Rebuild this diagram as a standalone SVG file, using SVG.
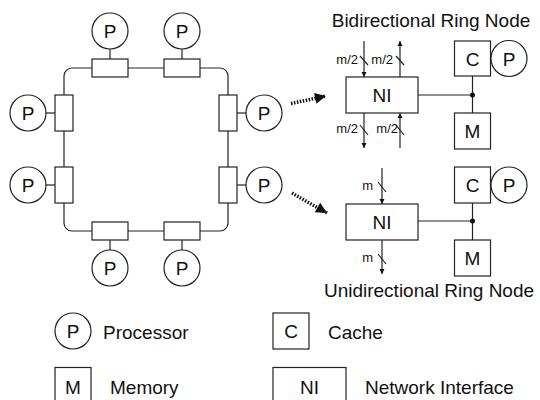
<svg xmlns="http://www.w3.org/2000/svg" width="540" height="400" viewBox="0 0 540 400">
<style>
.s{fill:#fff;stroke:#222;stroke-width:1.2}
.l{fill:none;stroke:#222;stroke-width:1.2}
.t{font-family:"Liberation Sans",Arial,sans-serif;font-size:19px;fill:#111}
.c{text-anchor:middle}
.sm{font-family:"Liberation Sans",Arial,sans-serif;font-size:13px;fill:#111}
.e{text-anchor:end}
</style>
<defs>
<marker id="ah" viewBox="0 0 10 10" refX="10" refY="5" markerWidth="5" markerHeight="6" orient="auto" markerUnits="userSpaceOnUse"><path d="M0,0 L10,5 L0,10 Z" fill="#111"/></marker>
<marker id="big" viewBox="0 0 10 10" refX="10" refY="5" markerWidth="14" markerHeight="11" orient="auto" markerUnits="userSpaceOnUse"><path d="M0,0 L10,5 L0,10 Z" fill="#111"/></marker>
</defs>
<g id="connectors">
<rect x="64" y="68" width="164" height="163" rx="8" class="l"/>
<line x1="110" y1="49" x2="110" y2="59" class="l"/>
<line x1="182" y1="49" x2="182" y2="59" class="l"/>
<line x1="110" y1="240" x2="110" y2="250" class="l"/>
<line x1="182" y1="240" x2="182" y2="250" class="l"/>
<line x1="46" y1="113" x2="55" y2="113" class="l"/>
<line x1="46" y1="185" x2="55" y2="185" class="l"/>
<line x1="237" y1="113" x2="246" y2="113" class="l"/>
<line x1="237" y1="185" x2="246" y2="185" class="l"/>
<line x1="291" y1="103.5" x2="326" y2="96" stroke="#111" stroke-width="3.5" stroke-dasharray="1.5 1.5" marker-end="url(#big)"/>
<line x1="292" y1="193" x2="327" y2="213" stroke="#111" stroke-width="3.5" stroke-dasharray="1.5 1.5" marker-end="url(#big)"/>
<line x1="364" y1="41" x2="364" y2="77" class="l" marker-end="url(#ah)"/>
<line x1="400" y1="77" x2="400" y2="41" class="l" marker-end="url(#ah)"/>
<line x1="364" y1="113" x2="364" y2="148" class="l" marker-end="url(#ah)"/>
<line x1="400" y1="148" x2="400" y2="113" class="l" marker-end="url(#ah)"/>
<line x1="360" y1="56" x2="368" y2="65" class="l"/>
<line x1="396" y1="56" x2="404" y2="65" class="l"/>
<line x1="360" y1="125" x2="368" y2="135" class="l"/>
<line x1="396" y1="125" x2="404" y2="135" class="l"/>
<line x1="418" y1="95" x2="472.5" y2="95" class="l"/>
<line x1="472.5" y1="76" x2="472.5" y2="113" class="l"/>
<circle cx="472.5" cy="95" r="2.5" fill="#111"/>
<line x1="382" y1="168" x2="382" y2="204" class="l" marker-end="url(#ah)"/>
<line x1="382" y1="240" x2="382" y2="274" class="l" marker-end="url(#ah)"/>
<line x1="378" y1="182" x2="386" y2="192" class="l"/>
<line x1="378" y1="254" x2="386" y2="264" class="l"/>
<line x1="418" y1="221" x2="472.5" y2="221" class="l"/>
<line x1="472.5" y1="203" x2="472.5" y2="240" class="l"/>
<circle cx="472.5" cy="221" r="2.5" fill="#111"/>
</g>
<g id="ring-nodes">
<rect x="92" y="59" width="36" height="18" class="s"/>
<rect x="164" y="59" width="36" height="18" class="s"/>
<rect x="92" y="222" width="36" height="18" class="s"/>
<rect x="164" y="222" width="36" height="18" class="s"/>
<rect x="55" y="95" width="18" height="36" class="s"/>
<rect x="55" y="167" width="18" height="36" class="s"/>
<rect x="219" y="95" width="18" height="36" class="s"/>
<rect x="219" y="167" width="18" height="36" class="s"/>
</g>
<g id="ring-processors">
<g id="p-top1"><circle cx="110" cy="31" r="18" class="s"/><text x="110" y="38" class="t c">P</text></g>
<g id="p-top2"><circle cx="182" cy="31" r="18" class="s"/><text x="182" y="38" class="t c">P</text></g>
<g id="p-bot1"><circle cx="110" cy="268" r="18" class="s"/><text x="110" y="275" class="t c">P</text></g>
<g id="p-bot2"><circle cx="182" cy="268" r="18" class="s"/><text x="182" y="275" class="t c">P</text></g>
<g id="p-left1"><circle cx="28" cy="113" r="18" class="s"/><text x="28" y="120" class="t c">P</text></g>
<g id="p-left2"><circle cx="28" cy="185" r="18" class="s"/><text x="28" y="192" class="t c">P</text></g>
<g id="p-right1"><circle cx="264" cy="113" r="18" class="s"/><text x="264" y="120" class="t c">P</text></g>
<g id="p-right2"><circle cx="264" cy="185" r="18" class="s"/><text x="264" y="192" class="t c">P</text></g>
</g>
<g id="bidirectional">
<text x="431" y="27" class="t c">Bidirectional Ring Node</text>
<g id="bi-ni"><rect x="346" y="77" width="72" height="36" class="s"/><text x="382" y="102" class="t c">NI</text></g>
<g id="bi-c"><rect x="454.5" y="41" width="36" height="35" class="s"/><text x="472.5" y="65.5" class="t c">C</text></g>
<g id="bi-p"><circle cx="509" cy="58.5" r="18" class="s"/><text x="509" y="65.5" class="t c">P</text></g>
<g id="bi-m"><rect x="454.5" y="113" width="36" height="36" class="s"/><text x="472.5" y="138" class="t c">M</text></g>
<text x="358" y="64" class="sm e">m/2</text>
<text x="393" y="64" class="sm e">m/2</text>
<text x="358" y="133" class="sm e">m/2</text>
<text x="398" y="133" class="sm e">m/2</text>
</g>
<g id="unidirectional">
<text x="429" y="297" class="t c">Unidirectional Ring Node</text>
<g id="uni-ni"><rect x="346" y="204" width="72" height="36" class="s"/><text x="382" y="229" class="t c">NI</text></g>
<g id="uni-c"><rect x="454.5" y="167" width="36" height="36" class="s"/><text x="472.5" y="192" class="t c">C</text></g>
<g id="uni-p"><circle cx="509" cy="185" r="18" class="s"/><text x="509" y="192" class="t c">P</text></g>
<g id="uni-m"><rect x="454.5" y="240" width="36" height="36" class="s"/><text x="472.5" y="265" class="t c">M</text></g>
<text x="373" y="190" class="sm e">m</text>
<text x="373" y="262" class="sm e">m</text>
</g>
<g id="legend">
<g id="leg-p"><circle cx="73" cy="331" r="18" class="s"/><text x="73" y="338" class="t c">P</text><text x="103" y="339" class="t">Processor</text></g>
<g id="leg-c"><rect x="273" y="313" width="36" height="36" class="s"/><text x="291" y="338" class="t c">C</text><text x="328" y="339" class="t">Cache</text></g>
<g id="leg-m"><rect x="55" y="367.5" width="36" height="40" class="s"/><text x="73" y="394" class="t c">M</text><text x="110" y="394" class="t">Memory</text></g>
<g id="leg-ni"><rect x="273" y="367.5" width="73" height="40" class="s"/><text x="309.5" y="394" class="t c">NI</text><text x="365" y="394" class="t">Network Interface</text></g>
</g>
</svg>
